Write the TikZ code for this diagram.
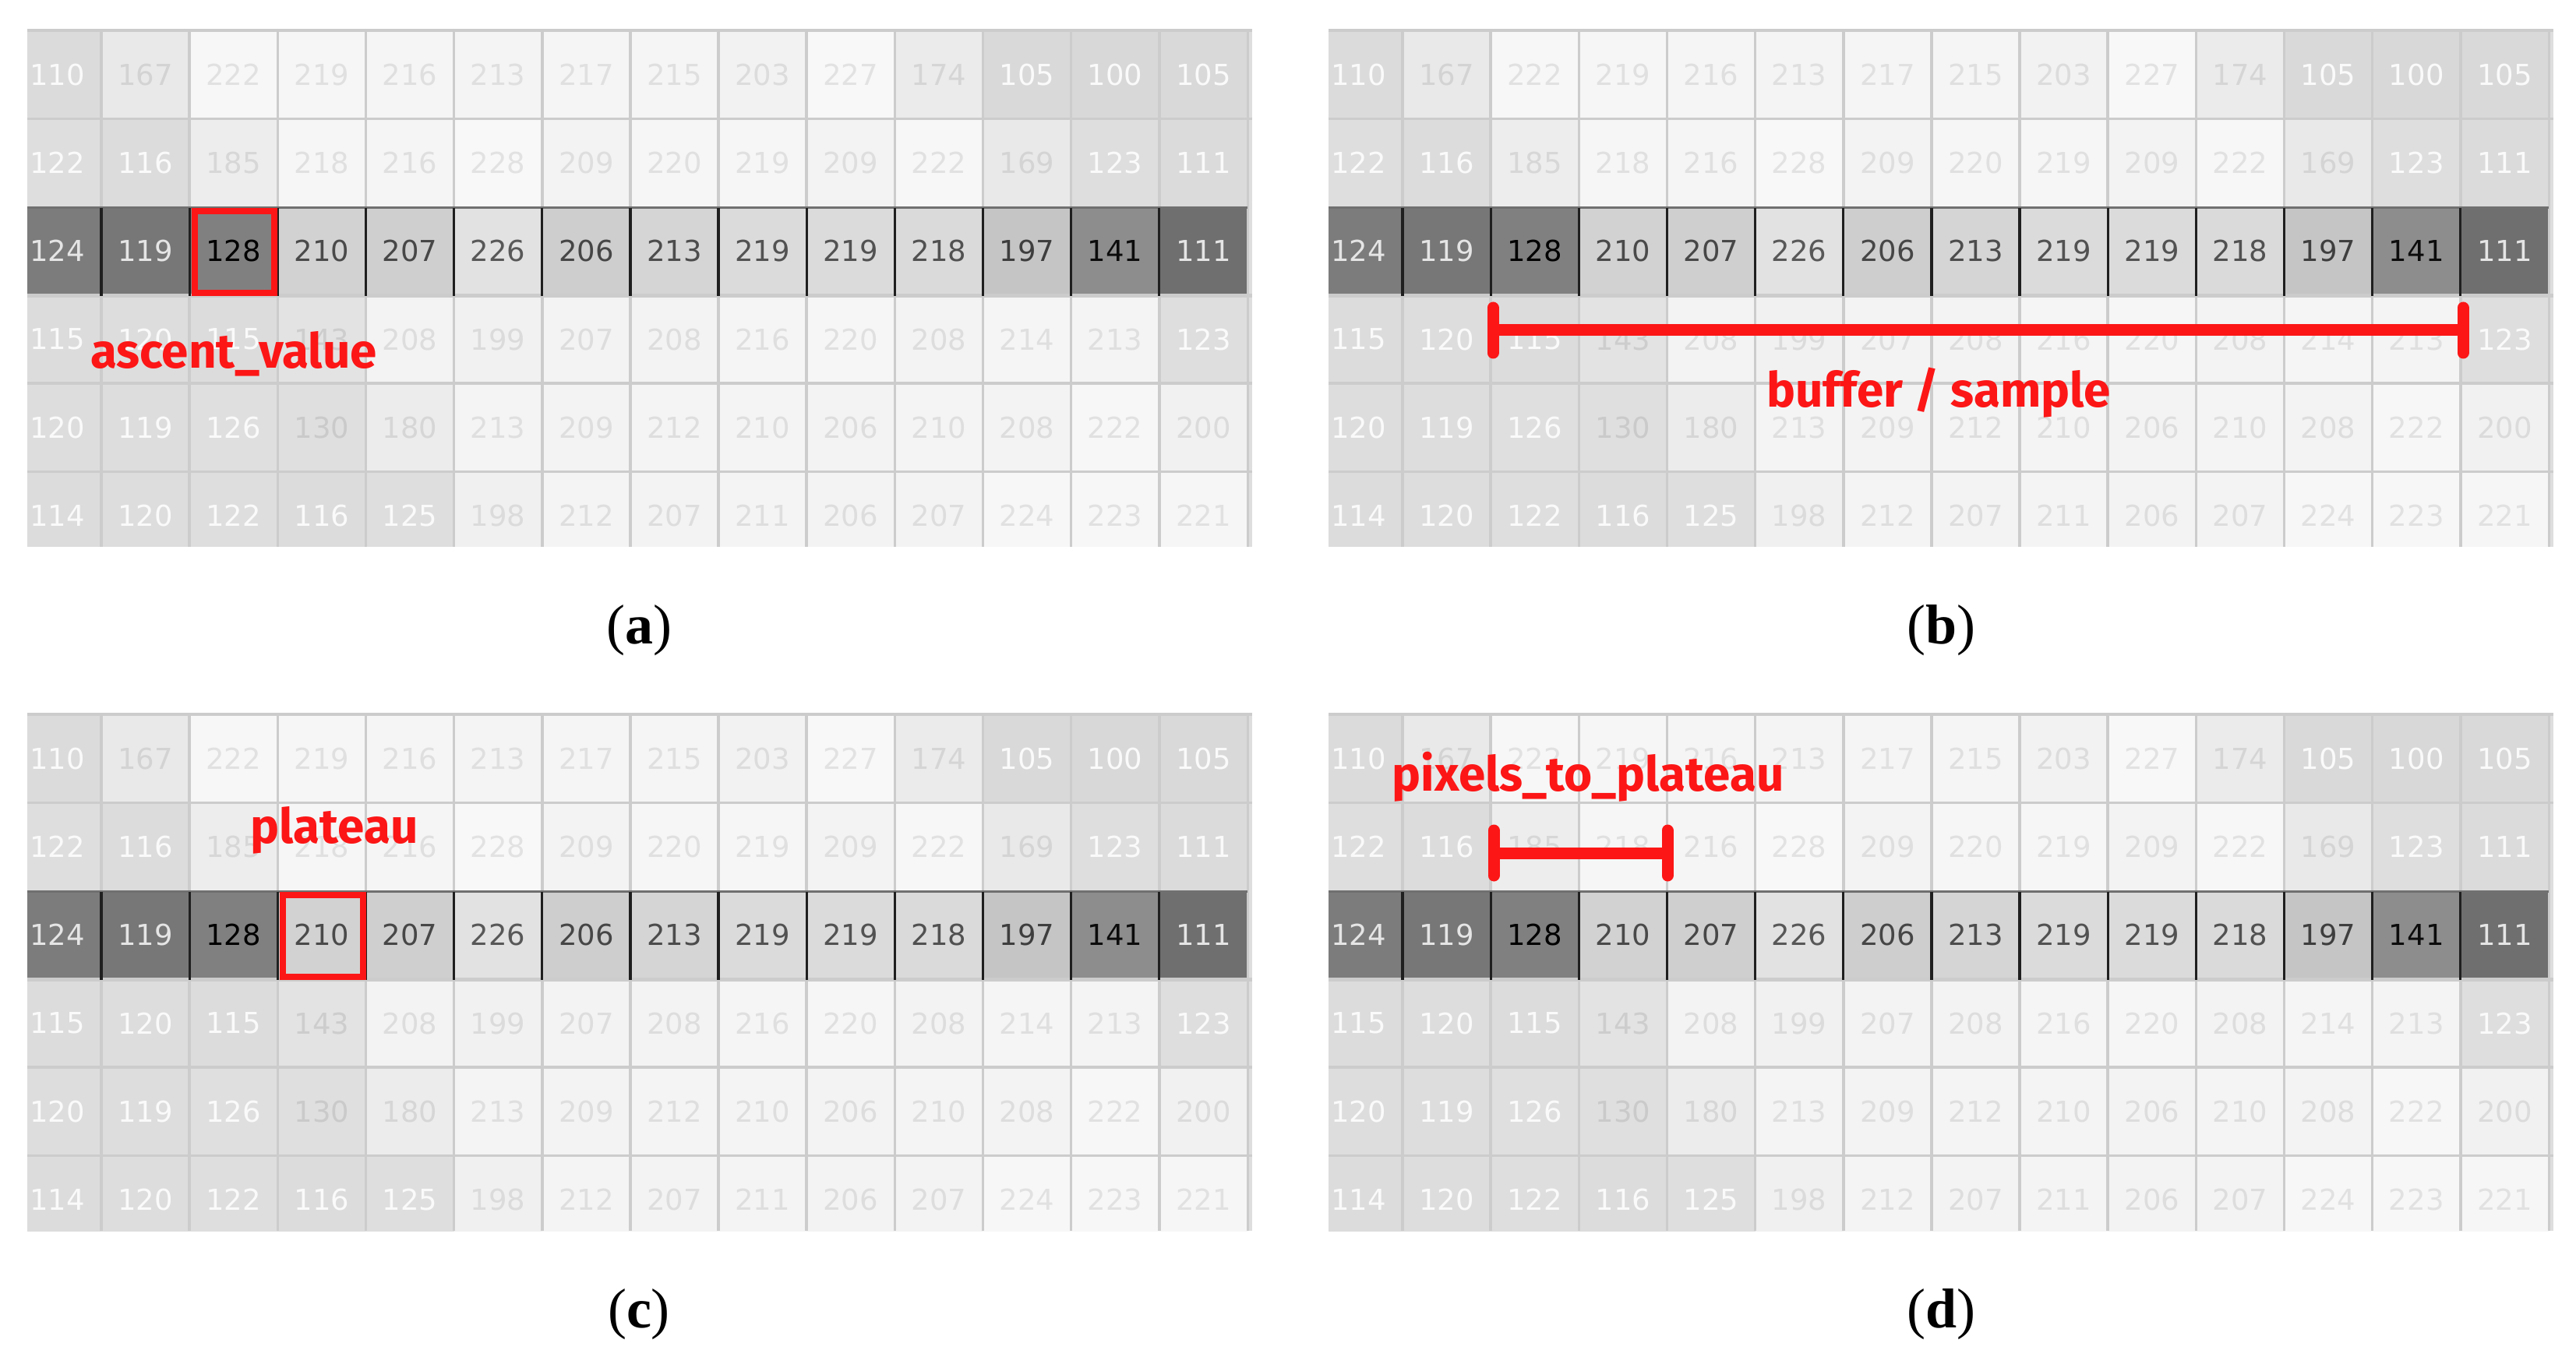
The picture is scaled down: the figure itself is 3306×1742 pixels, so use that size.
\documentclass[tikz,border=0pt]{standalone}
\usepackage{fontspec}
\newfontfamily\numfont{DejaVu Sans}
\newfontfamily\labfont{Fira Sans}
\newfontfamily\capfont{Liberation Serif}
\definecolor{redm}{RGB}{252,22,22}
\definecolor{gline}{gray}{0.80}
\definecolor{dtop}{gray}{0.44}
\definecolor{dsep}{gray}{0.12}
\definecolor{edgestrip}{gray}{0.87}
\tikzset{
  gridline/.style={draw=gline, line width=0.875pt},
  darksep/.style={draw=dsep, line width=0.8pt},
  numtext/.style={font=\numfont\fontsize{9.25}{10}\selectfont, inner sep=0pt},
  redlabel/.style={text=redm, font=\labfont\bfseries\fontsize{15.5}{17}\selectfont, inner sep=0pt, anchor=base},
  redbox/.style={draw=redm, line width=2pt},
  redbar/.style={draw=redm, line width=3.75pt},
  redtick/.style={draw=redm, line width=3.75pt, line cap=round},
  caption/.style={font=\capfont\fontsize{18}{20}\selectfont, inner sep=0pt, anchor=base}
}
\newcommand\gridpanel[3]{%
  \begin{scope}[shift={(#2,#3)}]
    \begin{scope}
      \clip (35,37) rectangle (1607,702);
      \foreach \vals [count=\ri from 0] in {
        {110,167,222,219,216,213,217,215,203,227,174,105,100,105},
        {122,116,185,218,216,228,209,220,219,209,222,169,123,111},
        {124,119,128,210,207,226,206,213,219,219,218,197,141,111},
        {115,120,115,143,208,199,207,208,216,220,208,214,213,123},
        {120,119,126,130,180,213,209,212,210,206,210,208,222,200},
        {114,120,122,116,125,198,212,207,211,206,207,224,223,221}} {
        \foreach \v [count=\ci from 0] in \vals {
          \ifnum\ri=2
            \pgfmathsetmacro\fg{\v/255}
            \pgfmathsetmacro\tg{\v<128 ? 0.90 : (\v-128)*0.9/255}
          \else
            \pgfmathsetmacro\fg{(0.25*\v+191)/255}
            \pgfmathsetmacro\tg{\v<128 ? 0.98 : \fg-0.085}
          \fi
          \definecolor{cf}{gray}{\fg}
          \definecolor{ct}{gray}{\tg}
          \fill[cf] (16.85+113.15*\ci,39+113.3*\ri) rectangle ++(113.15,113.3);
          \node[numtext, text=ct] (#1-\ri-\ci) at (73.4+113.15*\ci,95.65+113.3*\ri) {\v};
        }
      }
      \fill[edgestrip] (1601,37) rectangle (1607,702);
      \foreach \k in {0,1,3,4,5,6}
        \draw[gridline] (35,39+113.3*\k) -- (1607,39+113.3*\k);
      \foreach \k in {1,...,13} {
        \draw[gridline] (16.85+113.15*\k,39) -- (16.85+113.15*\k,266.6);
        \draw[gridline] (16.85+113.15*\k,379.9) -- (16.85+113.15*\k,702);
      }
      \draw[gridline] (1601.5,39) -- (1601.5,702);
      \draw[gridline] (35,379.9) -- (1607,379.9);
      \draw[draw=dtop, line width=0.9pt] (35,266.6) -- (1601,266.6);
      \foreach \k in {1,...,13}
        \draw[darksep] (16.85+113.15*\k,266.6) -- (16.85+113.15*\k,379.9);
    \end{scope}
  \end{scope}}
\begin{document}
\begin{tikzpicture}[x=0.25pt,y=-0.25pt]
  \fill[white] (0,0) rectangle (3306,1742);
  \useasboundingbox (0,0) rectangle (3306,1742);
  % panels
  \gridpanel{a}{0}{0}
  \gridpanel{b}{1670}{0}
  \gridpanel{c}{0}{878}
  \gridpanel{d}{1670}{878}
  % (a) ascent_value
  \draw[redbox] (250,270.6) rectangle (352.3,375.9);
  \node[redlabel] (lab-a) at (300,473) {ascent\_value};
  % (b) buffer / sample
  \coordinate (b-l) at (1916,424);
  \coordinate (b-r) at (3161,424);
  \draw[redbar] (b-l) -- (b-r);
  \draw[redtick] ([yshift=-29*0.25pt]b-l) -- ([yshift=29*0.25pt]b-l);
  \draw[redtick] ([yshift=-29*0.25pt]b-r) -- ([yshift=29*0.25pt]b-r);
  \node[redlabel] (lab-b) at (2488,523) {buffer / sample};
  % (c) plateau
  \draw[redbox] (363.3,1148.6) rectangle (465.6,1253.9);
  \node[redlabel] (lab-c) at (429,1082) {plateau};
  % (d) pixels_to_plateau
  \coordinate (d-l) at (1917,1095);
  \coordinate (d-r) at (2140,1095);
  \draw[redbar] (d-l) -- (d-r);
  \draw[redtick] ([yshift=-29*0.25pt]d-l) -- ([yshift=29*0.25pt]d-l);
  \draw[redtick] ([yshift=-29*0.25pt]d-r) -- ([yshift=29*0.25pt]d-r);
  \node[redlabel] (lab-d) at (2038,1015) {pixels\_to\_plateau};
  % captions
  \node[caption] (cap-a) at (820,826) {(\textbf{a})};
  \node[caption] (cap-b) at (2491,826) {(\textbf{b})};
  \node[caption] (cap-c) at (820,1704) {(\textbf{c})};
  \node[caption] (cap-d) at (2491,1704) {(\textbf{d})};
\end{tikzpicture}
\end{document}
